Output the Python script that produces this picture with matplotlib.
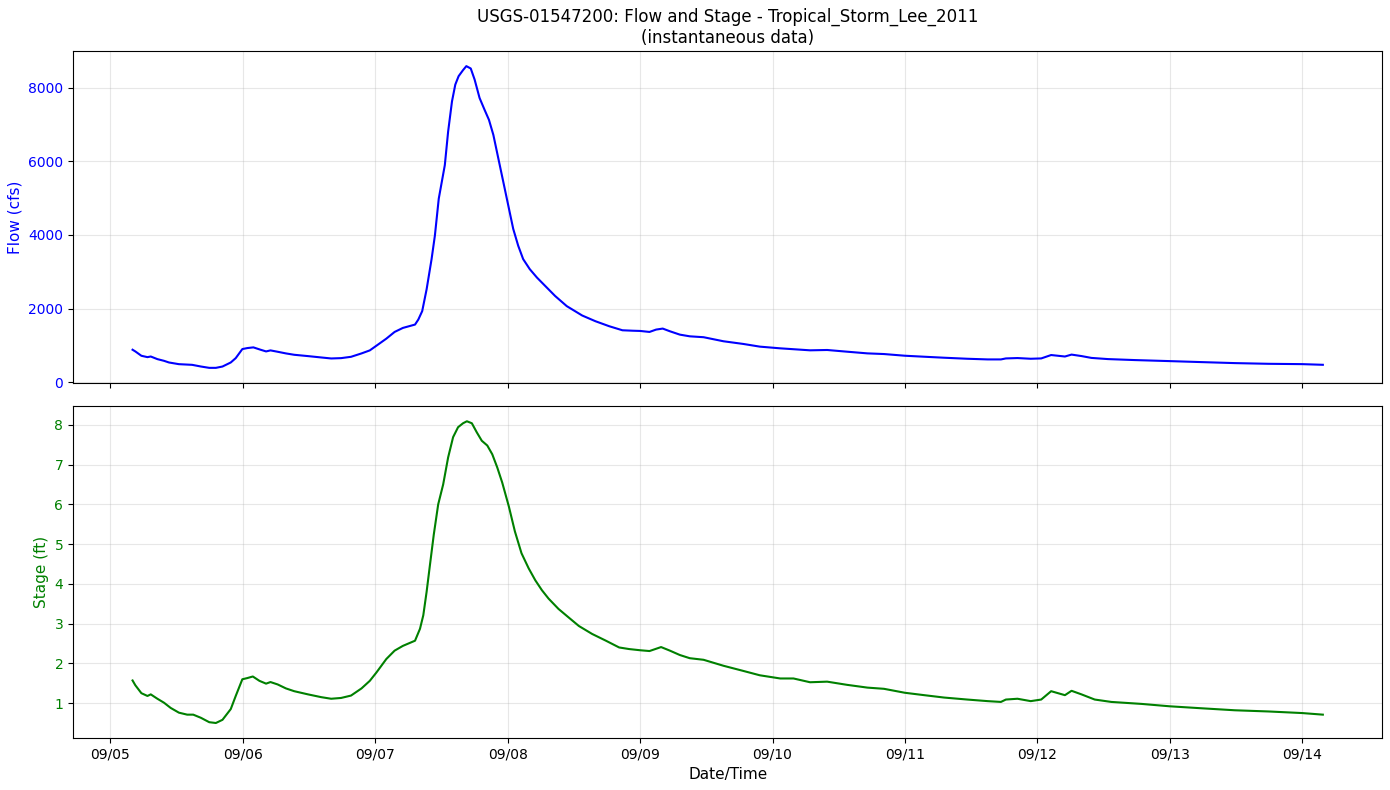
import matplotlib
matplotlib.use("Agg")
import matplotlib.pyplot as plt
import matplotlib.dates as mdates
import pandas as pd

start = pd.Timestamp("2011-09-05 00:00")

# hours since 2011-09-05 00:00 and flow values (cfs)
flow_hours = [4.0, 4.5, 5.6, 6.7, 7.3, 8.5, 9.7, 10.6, 12.4, 14.8, 16.4, 17.9, 19.1, 20.3,
              21.8, 22.7, 23.9, 24.8, 25.9, 27.2, 28.2, 29.0, 30.3, 31.8, 33.3, 35.8, 38.2,
              40.0, 41.8, 43.6, 45.5, 47.0, 48.2, 50.0, 51.5, 53.0, 55.2, 55.8, 56.5, 57.3,
              58.2, 58.8, 59.5, 60.6, 61.2, 61.9, 62.5, 63.1, 63.9, 64.5, 65.3, 66.0, 66.9,
              67.8, 68.6, 69.4, 70.3, 71.2, 72.1, 73.0, 73.9, 74.8, 76.0, 77.3, 78.8, 80.6,
              82.7, 85.5, 87.9, 90.4, 92.8, 94.7, 96.0, 97.7, 98.9, 100.1, 101.4, 103.2,
              105.0, 107.5, 111.1, 114.7, 117.7, 121.4, 123.2, 126.8, 129.9, 133.5, 137.2,
              140.2, 144.0, 147.5, 151.1, 155.3, 159.0, 161.4, 162.3, 164.4, 166.8, 168.7,
              170.5, 173.0, 174.2, 176.0, 177.8, 180.8, 185.7, 192.0, 197.8, 203.8, 209.9,
              216.0, 219.75]
flow_cfs = [884, 838, 720, 683, 700, 629, 583, 538, 492, 474, 428, 392, 392, 428,
            538, 656, 902, 929, 948, 884, 838, 866, 829, 784, 747, 711, 674,
            647, 656, 692, 784, 866, 993, 1185, 1367, 1476, 1567, 1704, 1932, 2524,
            3344, 3982, 4984, 5895, 6806, 7626, 8082, 8310, 8474, 8583, 8519, 8219, 7718,
            7399, 7125, 6715, 6077, 5440, 4802, 4164, 3708, 3344, 3071, 2843, 2615, 2342,
            2068, 1813, 1658, 1522, 1412, 1400, 1394, 1367, 1431, 1458, 1385, 1294,
            1248, 1224, 1114, 1041, 968, 922, 904, 868, 877, 831, 785,
            767, 721, 694, 667, 639, 621, 621, 648, 658, 639, 648,
            740, 700, 752, 712, 662, 630, 603, 575, 548, 521, 502,
            493, 475]

# hours since 2011-09-05 00:00 and stage values (ft)
stage_hours = [4.0, 4.5, 5.6, 6.7, 7.3, 8.5, 9.7, 10.9, 12.4, 13.9, 15.0, 16.4, 17.9, 19.1,
               20.3, 21.8, 22.7, 23.9, 24.8, 25.8, 27.0, 28.2, 29.0, 30.3, 31.8, 33.3, 35.8,
               38.2, 40.0, 41.8, 43.6, 45.5, 47.0, 48.2, 50.0, 51.5, 53.0, 55.2, 56.1, 56.7,
               57.3, 57.9, 58.6, 59.4, 60.3, 61.2, 62.1, 63.0, 63.9, 64.6, 65.5, 66.4, 67.3,
               68.3, 69.2, 70.1, 71.0, 72.2, 73.3, 74.5, 75.8, 77.0, 78.2, 79.4, 81.2, 83.0,
               84.9, 87.3, 89.8, 92.2, 94.0, 96.0, 97.7, 99.8, 101.4, 103.2, 105.0, 107.5,
               111.1, 114.7, 117.7, 121.4, 123.8, 126.8, 129.9, 133.5, 137.2, 140.2, 144.0,
               147.5, 151.1, 155.3, 159.0, 161.4, 162.3, 164.4, 166.8, 168.7, 170.5, 173.0,
               174.2, 176.0, 178.4, 181.4, 186.9, 192.0, 197.8, 203.8, 209.9, 216.0, 219.75]
stage_ft = [1.57, 1.45, 1.25, 1.18, 1.22, 1.11, 1.01, 0.88, 0.76, 0.71, 0.71, 0.63, 0.52, 0.50,
            0.58, 0.85, 1.18, 1.60, 1.63, 1.67, 1.56, 1.49, 1.53, 1.47, 1.37, 1.30, 1.22,
            1.15, 1.11, 1.13, 1.19, 1.37, 1.56, 1.77, 2.11, 2.32, 2.44, 2.57, 2.87, 3.21,
            3.80, 4.47, 5.24, 6.00, 6.50, 7.18, 7.69, 7.94, 8.04, 8.09, 8.04, 7.81, 7.60,
            7.48, 7.26, 6.93, 6.55, 5.95, 5.32, 4.77, 4.39, 4.09, 3.84, 3.63, 3.37, 3.16,
            2.94, 2.74, 2.57, 2.40, 2.36, 2.33, 2.31, 2.41, 2.32, 2.21, 2.13, 2.09,
            1.94, 1.81, 1.70, 1.62, 1.62, 1.525, 1.54, 1.46, 1.39, 1.36, 1.26,
            1.20, 1.14, 1.09, 1.05, 1.03, 1.09, 1.11, 1.05, 1.09, 1.30, 1.20,
            1.31, 1.22, 1.09, 1.03, 0.98, 0.92, 0.87, 0.82, 0.79, 0.75, 0.71]

flow_time = start + pd.to_timedelta(flow_hours, unit="h")
stage_time = start + pd.to_timedelta(stage_hours, unit="h")

fig, (ax1, ax2) = plt.subplots(2, 1, figsize=(13.9, 7.9), dpi=100, sharex=True)

ax1.plot(flow_time, flow_cfs, color="blue", linewidth=1.5)
ax1.set_ylabel("Flow (cfs)", color="blue", fontsize=11)
ax1.tick_params(axis="y", labelcolor="blue")
ax1.grid(True, alpha=0.3)
ax1.set_title("USGS-01547200: Flow and Stage - Tropical_Storm_Lee_2011\n(instantaneous data)",
              fontsize=12)

ax2.plot(stage_time, stage_ft, color="green", linewidth=1.5)
ax2.set_ylabel("Stage (ft)", color="green", fontsize=11)
ax2.tick_params(axis="y", labelcolor="green")
ax2.grid(True, alpha=0.3)
ax2.set_xlabel("Date/Time", fontsize=11)
ax2.xaxis.set_major_locator(mdates.DayLocator())
ax2.xaxis.set_major_formatter(mdates.DateFormatter("%m/%d"))

fig.tight_layout(pad=0.55, h_pad=1.1)
fig.savefig("out.png", dpi=100)
